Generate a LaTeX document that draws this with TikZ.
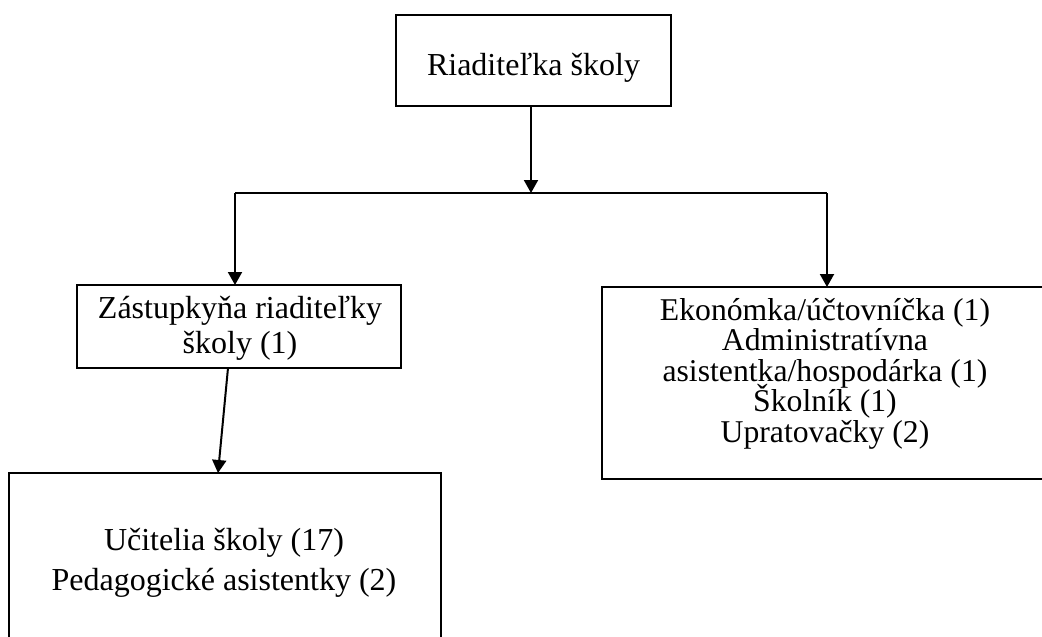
\documentclass[tikz,border=0pt]{standalone}
\usepackage{fontspec}
\setmainfont{Liberation Serif}
\usetikzlibrary{arrows.meta}
\setlength{\lineskiplimit}{-100pt}
\begin{document}
\begin{tikzpicture}[x=1pt,y=-1pt,
  box/.style={draw=black,line width=2.2pt,inner sep=0pt,outer sep=0pt,fill=none},
  lbl/.style={inner sep=0pt,outer sep=0pt,align=center,anchor=base},
  arr/.style={line width=2pt,-{Triangle[width=14pt,length=13pt]}},
  conn/.style={line width=2pt}]
\useasboundingbox (0,0) rectangle (1042,637);
\fill[white] (0,0) rectangle (1042,637);
\clip (0,0) rectangle (1042,637);
% boxes
\node[box,minimum width=275pt,minimum height=91pt] (top) at (533.5,60.5) {};
\node[box,minimum width=324pt,minimum height=83pt] (left) at (239,326.5) {};
\node[box,minimum width=470pt,minimum height=192pt] (right) at (837,383) {};
\node[box,minimum width=432pt,minimum height=247pt] (bottom) at (225,596.5) {};
% texts (base anchor = last line baseline)
\node[lbl,font=\fontsize{32}{32}\selectfont] (ttop) at (533.5,75) {Riaditeľka školy};
\node[lbl,font=\fontsize{32}{35}\selectfont] (tleft) at (240,353) {Zástupkyňa riaditeľky\\školy (1)};
\node[lbl,font=\fontsize{31.7}{30.5}\selectfont] (tright) at (825,442) {Ekonómka/účtovníčka (1)\\Administratívna\\asistentka/hospodárka (1)\\Školník (1)\\Upratovačky (2)};
\node[lbl,font=\fontsize{32}{40}\selectfont] (tbottom) at (224,590) {Učitelia školy (17)\\Pedagogické asistentky (2)};
% connectors
\coordinate (j) at (531,193);
\coordinate (jl) at (235,193);
\coordinate (jr) at (827,193);
\coordinate (la) at (228,368);
\coordinate (lb) at (218,473);
\draw[arr] (top.south -| j) -- (j);
\draw[conn] (jl) -- (jr);
\draw[arr] (jl) -- (jl |- left.north);
\draw[arr] (jr) -- (jr |- right.north);
\draw[arr] (la) -- (lb);
\end{tikzpicture}
\end{document}
